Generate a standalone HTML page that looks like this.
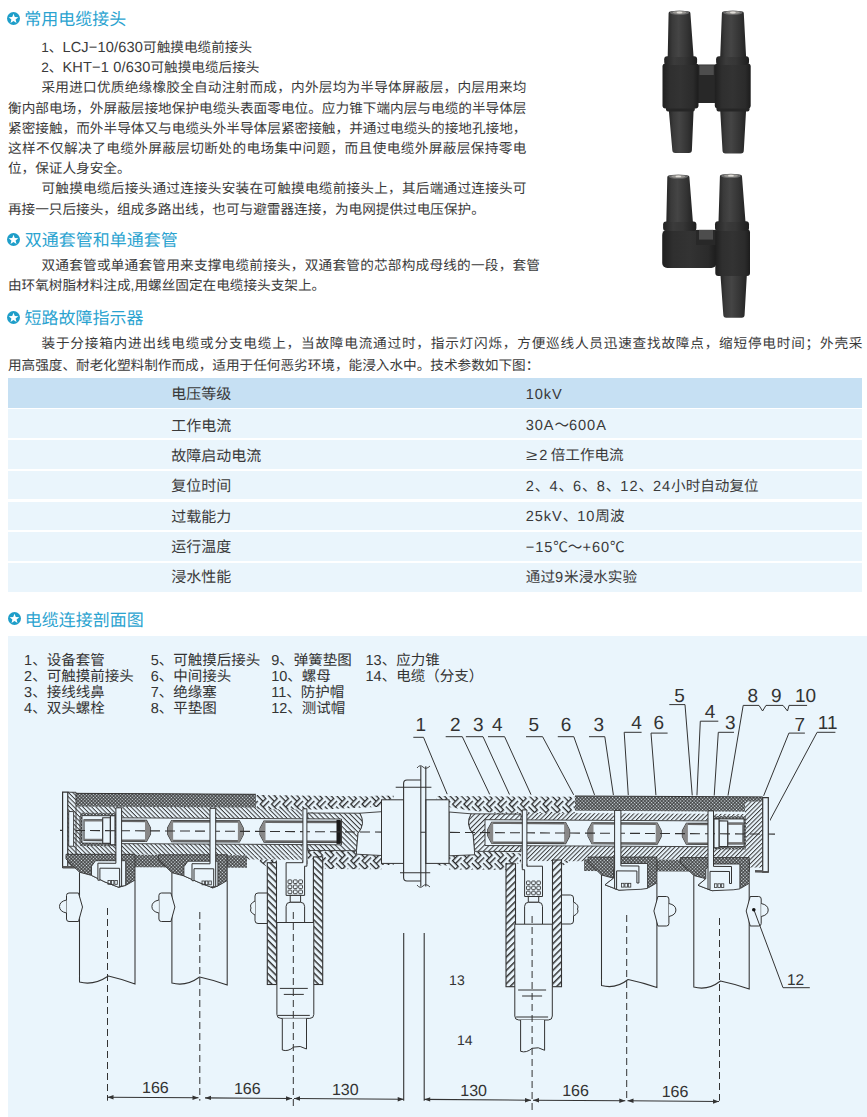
<!DOCTYPE html>
<html lang="zh-CN"><head><meta charset="utf-8">
<style>
html,body{margin:0;padding:0;background:#fff;}
body{width:867px;height:1117px;overflow:hidden;position:relative;text-rendering:geometricPrecision;text-spacing-trim:space-all;font-family:"Liberation Sans",sans-serif;color:#3a3a3a;}
.l{position:absolute;white-space:nowrap;font-size:13.64px;line-height:20px;height:20px;}
.j{text-align:justify;text-align-last:justify;}
.la{font-size:14.6px;letter-spacing:0.15px;}
.h{position:absolute;white-space:nowrap;font-size:17px;line-height:20px;color:#2aa3d0;}
.h .s{position:absolute;left:-19px;top:3.5px;width:13px;height:13px;}
.tbl{position:absolute;left:7.8px;top:378px;width:854.6px;}
.tr{position:absolute;left:0;width:854.6px;background:#eaf5fc;}
.tr.hd{background:#c6e0f3;}
.tbl span{position:absolute;font-size:14.6px;line-height:18px;white-space:nowrap;color:#3a3a3a;}
.tbl span.a{font-size:15px;}
.tbl .ge{letter-spacing:0;display:inline-block;transform:scaleX(1.4);transform-origin:0 50%;margin-right:5.4px;}
.tbl .g2{margin-right:2.5px;}
.tbl i{font-style:normal;letter-spacing:0.9px;}
.tbl .a{left:163.5px;}
.tbl .b{left:518px;}
.panel{position:absolute;left:8px;top:635.5px;width:859px;height:481.5px;background:#eaf5fc;}
.lg{position:absolute;white-space:nowrap;font-size:14.5px;line-height:16px;color:#333;}
</style></head><body>

<svg width="0" height="0" style="position:absolute">
<defs>
<symbol id="star" viewBox="0 0 13 13"><circle cx="6.5" cy="6.5" r="6.5" fill="#1e9ec9"/><path d="M6.50 1.70 L7.79 5.02 L11.35 5.22 L8.59 7.48 L9.50 10.93 L6.50 9.00 L3.50 10.93 L4.41 7.48 L1.65 5.22 L5.21 5.02 Z" fill="#fff"/></symbol>
</defs></svg>

<div class="h j" style="left:24.2px;top:9.8px;width:102.00px;"><svg class="s" style="left:-16.9px;top:2px"><use href="#star"/></svg>常用电缆接头</div>
<div class="l j" style="left:41.2px;top:37.8px;width:210.83px;">1、<span class="la">LCJ−10/630</span>可触摸电缆前接头</div>
<div class="l j" style="left:41.2px;top:58.0px;width:218.27px;">2、<span class="la">KHT−1 0/630</span>可触摸电缆后接头</div>
<div class="l j" style="left:41.5px;top:77.8px;width:485px;">采用进口优质绝缘橡胶全自动注射而成，内外层均为半导体屏蔽层，内层用来均</div>
<div class="l j" style="left:8px;top:98.6px;width:518.5px;">衡内部电场，外屏蔽层接地保护电缆头表面零电位。应力锥下端内层与电缆的半导体层</div>
<div class="l j" style="left:8px;top:118.8px;width:518.5px;">紧密接触，而外半导体又与电缆头外半导体层紧密接触，并通过电缆头的接地孔接地，</div>
<div class="l j" style="left:8px;top:138.8px;width:518.5px;">这样不仅解决了电缆外屏蔽层切断处的电场集中问题，而且使电缆外屏蔽层保持零电</div>
<div class="l j" style="left:8px;top:159.3px;width:122.62px;">位，保证人身安全。</div>
<div class="l j" style="left:41.5px;top:179.4px;width:485px;">可触摸电缆后接头通过连接头安装在可触摸电缆前接头上，其后端通过连接头可</div>
<div class="l j" style="left:8px;top:199.8px;width:476.88px;">再接一只后接头，组成多路出线，也可与避雷器连接，为电网提供过电压保护。</div>

<div class="h j" style="left:24.8px;top:231.15px;width:153.00px;"><svg class="s" style="left:-17.6px;top:1.95px"><use href="#star"/></svg>双通套管和单通套管</div>
<div class="l j" style="left:41.5px;top:256.4px;width:498.5px;">双通套管或单通套管用来支撑电缆前接头，双通套管的芯部构成母线的一段，套管</div>
<div class="l j" style="left:8px;top:276.3px;width:317.17px;">由环氧树脂材料注成,用螺丝固定在电缆接头支架上。</div>

<div class="h j" style="left:24.4px;top:309.1px;width:119.00px;"><svg class="s" style="left:-17.2px;top:2.4px"><use href="#star"/></svg>短路故障指示器</div>
<div class="l j" style="left:41.5px;top:333.7px;width:821px;">装于分接箱内进出线电缆或分支电缆上，当故障电流通过时，指示灯闪烁，方便巡线人员迅速查找故障点，缩短停电时间；外壳采</div>
<div class="l j" style="left:8px;top:355.5px;width:531.38px;">用高强度、耐老化塑料制作而成，适用于任何恶劣环境，能浸入水中。技术参数如下图：</div>

<div class="tbl">
<div class="tr hd" style="top:0.00px;height:29.6px"></div>
<div class="tr" style="top:31.40px;height:28.7px"></div>
<div class="tr" style="top:62.10px;height:28.7px"></div>
<div class="tr" style="top:92.80px;height:28.7px"></div>
<div class="tr" style="top:123.50px;height:28.7px"></div>
<div class="tr" style="top:154.20px;height:28.7px"></div>
<div class="tr" style="top:184.90px;height:28.7px"></div>
<span class="a j" style="top:8.00px;width:60.02px;">电压等级</span><span class="b" style="top:7.50px"><i>10kV</i></span>
<span class="a j" style="top:39.50px;width:60.02px;">工作电流</span><span class="b j" style="top:39.00px;width:80.97px;"><i>30A</i>～<i>600A</i></span>
<span class="a j" style="top:69.50px;width:90.02px;">故障启动电流</span><span class="b j" style="top:69.00px;width:97.92px;"><i class="ge">≥</i><i class="g2">2</i>倍工作电流</span>
<span class="a j" style="top:100.30px;width:60.02px;">复位时间</span><span class="b j" style="top:99.80px;width:232.84px;"><i>2</i>、<i>4</i>、<i>6</i>、<i>8</i>、<i>12</i>、<i>24</i>小时自动复位</span>
<span class="a j" style="top:130.50px;width:60.02px;">过载能力</span><span class="b j" style="top:130.00px;width:98.73px;"><i>25kV</i>、<i>10</i>周波</span>
<span class="a j" style="top:161.10px;width:60.02px;">运行温度</span><span class="b j" style="top:160.60px;width:98.75px;"><i>−15</i>℃～<i>+60</i>℃</span>
<span class="a j" style="top:191.30px;width:60.02px;">浸水性能</span><span class="b j" style="top:190.80px;width:111.22px;">通过<i>9</i>米浸水实验</span>
</div>

<div class="h j" style="left:24.8px;top:610.5px;width:119.00px;"><svg class="s" style="left:-17px;top:1.9px"><use href="#star"/></svg>电缆连接剖面图</div>

<div class="panel"></div>
<div class="lg j" style="left:24.1px;top:652.8px;width:80.58px;">1、设备套管</div>
<div class="lg j" style="left:24.1px;top:668.9px;width:109.58px;">2、可触摸前接头</div>
<div class="lg j" style="left:24.1px;top:685.1px;width:80.58px;">3、接线线鼻</div>
<div class="lg j" style="left:24.1px;top:701.2px;width:80.58px;">4、双头螺栓</div>
<div class="lg j" style="left:150.8px;top:652.8px;width:109.58px;">5、可触摸后接头</div>
<div class="lg j" style="left:150.8px;top:668.9px;width:80.58px;">6、中间接头</div>
<div class="lg j" style="left:150.8px;top:685.1px;width:66.08px;">7、绝缘塞</div>
<div class="lg j" style="left:150.8px;top:701.2px;width:66.08px;">8、平垫图</div>
<div class="lg j" style="left:271.2px;top:652.8px;width:80.58px;">9、弹簧垫图</div>
<div class="lg j" style="left:271.2px;top:668.9px;width:59.64px;">10、螺母</div>
<div class="lg j" style="left:271.2px;top:685.1px;width:73.06px;">11、防护帽</div>
<div class="lg j" style="left:271.2px;top:701.2px;width:74.14px;">12、测试帽</div>
<div class="lg j" style="left:365.5px;top:652.8px;width:74.14px;">13、应力锥</div>
<div class="lg j" style="left:365.5px;top:668.9px;width:117.64px;">14、电缆（分支）</div>

<!--DG--><svg id="dg" width="867" height="1117" style="position:absolute;left:0;top:0" font-family="Liberation Sans, sans-serif"><defs>
<pattern id="xh" patternUnits="userSpaceOnUse" width="2.4" height="2.4" patternTransform="rotate(45)">
 <rect width="2.4" height="2.4" fill="#333"/><rect x="0.52" y="0.52" width="1.36" height="1.36" fill="#eaf5fc"/>
</pattern>
<pattern id="dh" patternUnits="userSpaceOnUse" width="3.1" height="3.1" patternTransform="rotate(45)">
 <rect width="3.1" height="3.1" fill="#eaf5fc"/><rect x="0" y="0" width="3.1" height="1.0" fill="#3a3a3a"/>
</pattern>
<pattern id="dr" patternUnits="userSpaceOnUse" width="3.1" height="3.1" patternTransform="rotate(-45)">
 <rect width="3.1" height="3.1" fill="#eaf5fc"/><rect x="0" y="0" width="3.1" height="1.0" fill="#3a3a3a"/>
</pattern>
<pattern id="ds" patternUnits="userSpaceOnUse" width="3.6" height="3.6" patternTransform="rotate(-45)">
 <rect width="3.6" height="3.6" fill="#eaf5fc"/><rect x="0" y="0" width="3.6" height="1.05" fill="#3a3a3a"/>
</pattern>
<pattern id="hb" patternUnits="userSpaceOnUse" width="16" height="16" patternTransform="rotate(45)">
 <rect width="16" height="16" fill="#eaf5fc"/>
 <path d="M0 0.7H8.0M0 4.7H8.0M8.7 0V8.0M12.7 0V8.0M0.7 8.0V16M4.7 8.0V16M8.0 8.7H16M8.0 12.7H16" stroke="#222" stroke-width="1.3" fill="none"/>
</pattern>
<pattern id="hwl" patternUnits="userSpaceOnUse" width="4.7" height="4.7" patternTransform="rotate(45)">
 <rect width="4.7" height="4.7" fill="#eaf5fc"/><rect width="4.7" height="1.5" fill="#333"/>
</pattern>
<pattern id="hwr" patternUnits="userSpaceOnUse" width="4.7" height="4.7" patternTransform="rotate(-45)">
 <rect width="4.7" height="4.7" fill="#eaf5fc"/><rect width="4.7" height="1.5" fill="#333"/>
</pattern>
<pattern id="dsl" patternUnits="userSpaceOnUse" width="3.6" height="3.6" patternTransform="rotate(45)">
 <rect width="3.6" height="3.6" fill="#eaf5fc"/><rect x="0" y="0" width="3.6" height="1.05" fill="#3a3a3a"/>
</pattern>
</defs>
<text x="420.8" y="731.0" font-size="19" text-anchor="middle" fill="#333">1</text>
<text x="455.4" y="731.0" font-size="19" text-anchor="middle" fill="#333">2</text>
<text x="478.3" y="731.0" font-size="19" text-anchor="middle" fill="#333">3</text>
<text x="497.4" y="731.0" font-size="19" text-anchor="middle" fill="#333">4</text>
<text x="533.7" y="731.0" font-size="19" text-anchor="middle" fill="#333">5</text>
<text x="566.1" y="731.0" font-size="19" text-anchor="middle" fill="#333">6</text>
<text x="598.8" y="731.0" font-size="19" text-anchor="middle" fill="#333">3</text>
<text x="636.6" y="729.3" font-size="19" text-anchor="middle" fill="#333">4</text>
<text x="658.8" y="729.3" font-size="19" text-anchor="middle" fill="#333">6</text>
<text x="679.5" y="701.6" font-size="19" text-anchor="middle" fill="#333">5</text>
<text x="710" y="717.7" font-size="19" text-anchor="middle" fill="#333">4</text>
<text x="730.2" y="729.3" font-size="19" text-anchor="middle" fill="#333">3</text>
<text x="799.9" y="730.7" font-size="19" text-anchor="middle" fill="#333">7</text>
<text x="827.6" y="729.3" font-size="19" text-anchor="middle" fill="#333">11</text>
<text x="752.9" y="702.2" font-size="19" text-anchor="middle" fill="#333">8</text>
<text x="776.4" y="702.2" font-size="19" text-anchor="middle" fill="#333">9</text>
<text x="805.5" y="702.2" font-size="19" text-anchor="middle" fill="#333">10</text>
<path d="M413.3 737.3H423.5L457.8 819.6" stroke="#333" stroke-width="1" fill="none"/>
<path d="M445.7 736.7H462.3L494.2 803.9" stroke="#333" stroke-width="1" fill="none"/>
<path d="M465.9 736.7H483L523.2 824.5" stroke="#333" stroke-width="1" fill="none"/>
<path d="M488 736.7H504.6L546.3 828.1" stroke="#333" stroke-width="1" fill="none"/>
<path d="M526 736.7H542.6L575.3 797.9" stroke="#333" stroke-width="1" fill="none"/>
<path d="M557.8 736.7H573.8L599.5 808.8" stroke="#333" stroke-width="1" fill="none"/>
<path d="M589 736.7H604.8L618.4 828.9" stroke="#333" stroke-width="1" fill="none"/>
<path d="M641.6 732.3H624.2L630.5 829.3" stroke="#333" stroke-width="1" fill="none"/>
<path d="M667.6 733.1H651L657.5 815" stroke="#333" stroke-width="1" fill="none"/>
<path d="M669.3 704.6H685L692.5 798.7" stroke="#333" stroke-width="1" fill="none"/>
<path d="M718.3 721.2H700.3L695.4 829.5" stroke="#333" stroke-width="1" fill="none"/>
<path d="M734 732.3H718.3L712 829.5" stroke="#333" stroke-width="1" fill="none"/>
<path d="M807.1 705.4H789L787.5 711L783 705.4H766L762.6 711L759 705.4H743.2L723 825.2" stroke="#333" stroke-width="1" fill="none"/>
<path d="M804.9 733.1H788.9L761.8 800.3" stroke="#333" stroke-width="1" fill="none"/>
<path d="M835.4 732.3H817.1L768.3 823.4" stroke="#333" stroke-width="1" fill="none"/>
<circle cx="618.4" cy="828.9" r="1.8" fill="#111"/>
<circle cx="630.5" cy="829.3" r="1.8" fill="#111"/>
<circle cx="657.5" cy="815" r="1.8" fill="#111"/>
<circle cx="695.4" cy="829.5" r="1.8" fill="#111"/>
<circle cx="712" cy="829.5" r="1.8" fill="#111"/>
<circle cx="723" cy="825.2" r="1.8" fill="#111"/>
<polygon points="62.6,792.2 770.0,795.9 770.0,871.7 62.6,868.0" fill="#eaf5fc"/>
<polygon points="68.8,793.3 256.0,794.3 256.0,807.6 68.8,806.6" fill="url(#xh)"/>
<polygon points="66.0,798.0 302.0,799.2 302.0,818.7 66.0,817.5" fill="url(#dh)"/>
<polygon points="66.0,843.3 302.0,844.5 302.0,855.5 66.0,854.3" fill="url(#dh)"/>
<polygon points="66.0,798.0 80.0,798.1 80.0,866.1 66.0,866.0" fill="url(#dh)"/>
<polygon points="68.8,793.3 256.0,794.3 256.0,807.6 68.8,806.6" fill="url(#xh)"/>
<polygon points="80.0,854.4 247.0,855.3 247.0,867.8 80.0,866.9" fill="url(#xh)"/>
<polygon points="256.0,795.1 372.0,796.4 372.0,795.7 393.8,795.8 393.8,802.0 381.5,802.0 381.5,806.7 320.0,809.6 256.0,809.3" fill="url(#hb)"/>
<polygon points="247.0,855.3 302.0,855.5 302.0,859.7 247.0,859.5" fill="url(#dh)"/>
<polygon points="259.6,859.5 277.0,859.6 277.0,867.1 267.3,867.1 259.6,862.0" fill="url(#hb)"/>
<polygon points="307.7,850.3 393.8,850.7 393.8,865.1 381.5,865.1 381.5,869.2 322.7,868.9 322.7,873.4 313.4,873.3 313.4,859.3 307.7,859.3" fill="url(#hb)"/>
<polygon points="307.7,812.3 314.0,812.3 314.0,818.8 307.7,818.8" fill="url(#dh)"/>
<path d="M307.7,813.0 L360,813.2 Q366,823.6 358,833.5 L356.5,850.7 L307.7,850.5 Z" fill="url(#dsl)" stroke="#333" stroke-width="0.9"/>
<path d="M360,813.2 L381.5,811.7 L381.5,855.5 L356.5,854.2 L356.5,850.7 L358,833.5 Q366,823.6 360,813.2 Z" fill="#eaf5fc" stroke="#333" stroke-width="0.9"/>
<polygon points="494.6,812.7 748.0,814.1 748.0,821.1 494.6,819.7" fill="url(#dr)"/>
<polygon points="575.0,796.0 762.7,796.9 762.7,811.7 575.0,810.8" fill="url(#xh)"/>
<polygon points="527.0,845.7 748.0,846.9 748.0,860.1 527.0,858.9" fill="url(#dr)"/>
<polygon points="745.0,801.6 762.7,801.6 762.7,867.6 745.0,867.6" fill="url(#dr)"/>
<polygon points="584.0,859.2 750.0,860.1 750.0,871.9 584.0,871.0" fill="url(#xh)"/>
<polygon points="436.4,796.0 575.0,796.8 575.0,813.2 494.6,812.7 470.0,810.4 449.0,807.0 449.0,802.3 436.4,802.2" fill="url(#hb)"/>
<polygon points="436.4,851.4 494.6,851.7 521.0,853.4 521.0,863.4 515.5,863.4 515.5,874.4 506.0,874.3 506.0,869.8 449.0,869.5 449.0,865.4 436.4,865.3" fill="url(#hb)"/>
<polygon points="527.0,856.7 584.0,857.0 584.0,861.2 527.0,860.9" fill="url(#dr)"/>
<polygon points="552.5,861.1 570.0,861.1 561.5,866.6 552.5,866.6" fill="url(#hb)"/>
<path d="M521,814.1 L471,813.8 Q465,824.1 473,834.1 L474.5,851.3 L521,851.6 Z" fill="url(#ds)" stroke="#333" stroke-width="0.9"/>
<path d="M471,813.8 L449,812.0 L449,855.8 L474.5,854.8 L474.5,851.3 L473,834.1 Q465,824.1 471,813.8 Z" fill="#eaf5fc" stroke="#333" stroke-width="0.9"/>
<polygon points="80.0,817.6 341.5,819.0 341.5,844.8 80.0,843.4" fill="#eaf5fc" stroke="#333" stroke-width="0.9"/>
<polygon points="485.0,819.7 745.0,821.1 745.0,846.9 485.0,845.5" fill="#eaf5fc" stroke="#333" stroke-width="0.9"/>
<polygon points="119.0,841.3 119.0,820.3 146.5,820.4 150.5,828.0 150.5,834.0 146.5,841.4" fill="#eaf5fc" stroke="#333" stroke-width="1.1"/>
<polygon points="119.0,820.3 146.5,820.4 146.5,822.2 119.0,822.1" fill="#666"/>
<polygon points="119.0,839.5 146.5,839.6 146.5,841.4 119.0,841.3" fill="#666"/>
<polygon points="146.5,820.4 150.5,828.0 150.5,834.0 146.5,841.4 145.0,841.4 145.0,820.4" fill="#888"/>
<polygon points="171.6,841.6 167.6,834.0 167.6,828.0 171.6,820.6 239.4,820.9 243.4,828.4 243.4,834.4 239.4,841.9" fill="#eaf5fc" stroke="#333" stroke-width="1.1"/>
<polygon points="171.6,820.6 239.4,820.9 239.4,822.7 171.6,822.4" fill="#666"/>
<polygon points="171.6,839.8 239.4,840.1 239.4,841.9 171.6,841.6" fill="#666"/>
<polygon points="171.6,820.6 167.6,828.0 167.6,834.0 171.6,841.6 173.1,841.6 173.1,820.6" fill="#888"/>
<polygon points="239.4,820.9 243.4,828.4 243.4,834.4 239.4,841.9 237.9,841.9 237.9,820.9" fill="#888"/>
<polygon points="264.0,842.1 260.0,834.5 260.0,828.5 264.0,821.1 340.7,821.4 340.7,842.4" fill="#eaf5fc" stroke="#333" stroke-width="1.1"/>
<polygon points="264.0,821.1 340.7,821.4 340.7,823.2 264.0,822.9" fill="#666"/>
<polygon points="264.0,840.3 340.7,840.6 340.7,842.4 264.0,842.1" fill="#666"/>
<polygon points="264.0,821.1 260.0,828.5 260.0,834.5 264.0,842.1 265.5,842.1 265.5,821.1" fill="#888"/>
<polygon points="491.7,843.2 487.7,835.7 487.7,829.7 491.7,822.2 565.6,822.6 569.6,830.1 569.6,836.1 565.6,843.6" fill="#eaf5fc" stroke="#333" stroke-width="1.1"/>
<polygon points="491.7,822.2 565.6,822.6 565.6,824.4 491.7,824.0" fill="#666"/>
<polygon points="491.7,841.4 565.6,841.8 565.6,843.6 491.7,843.2" fill="#666"/>
<polygon points="491.7,822.2 487.7,829.7 487.7,835.7 491.7,843.2 493.2,843.2 493.2,822.2" fill="#888"/>
<polygon points="565.6,822.6 569.6,830.1 569.6,836.1 565.6,843.6 564.1,843.6 564.1,822.6" fill="#888"/>
<polygon points="592.0,843.8 588.0,836.2 588.0,830.2 592.0,822.8 657.2,823.1 661.2,830.6 661.2,836.6 657.2,844.1" fill="#eaf5fc" stroke="#333" stroke-width="1.1"/>
<polygon points="592.0,822.8 657.2,823.1 657.2,824.9 592.0,824.6" fill="#666"/>
<polygon points="592.0,842.0 657.2,842.3 657.2,844.1 592.0,843.8" fill="#666"/>
<polygon points="592.0,822.8 588.0,830.2 588.0,836.2 592.0,843.8 593.5,843.8 593.5,822.8" fill="#888"/>
<polygon points="657.2,823.1 661.2,830.6 661.2,836.6 657.2,844.1 655.7,844.1 655.7,823.1" fill="#888"/>
<polygon points="686.4,844.2 682.4,836.7 682.4,830.7 686.4,823.2 708.3,823.4 708.3,844.4" fill="#eaf5fc" stroke="#333" stroke-width="1.1"/>
<polygon points="686.4,823.2 708.3,823.4 708.3,825.2 686.4,825.0" fill="#666"/>
<polygon points="686.4,842.4 708.3,842.6 708.3,844.4 686.4,844.2" fill="#666"/>
<polygon points="686.4,823.2 682.4,830.7 682.4,836.7 686.4,844.2 687.9,844.3 687.9,823.3" fill="#888"/>
<polygon points="80.0,812.8 117.0,813.0 117.0,846.2 80.0,846.0" fill="url(#xh)"/>
<polygon points="82.0,815.6 115.0,815.8 115.0,843.3 82.0,843.1" fill="#eaf5fc" stroke="#333" stroke-width="0.9"/>
<polygon points="84.0,819.7 102.7,819.8 102.7,840.6 84.0,840.5" fill="#eaf5fc" stroke="#333" stroke-width="1.1"/>
<polygon points="84.0,819.7 102.7,819.8 102.7,821.6 84.0,821.5" fill="#777"/>
<polygon points="84.0,838.7 102.7,838.8 102.7,840.6 84.0,840.5" fill="#777"/>
<polygon points="102.7,817.7 110.4,817.8 110.4,843.4 102.7,843.3" fill="#eaf5fc" stroke="#333" stroke-width="1.1"/>
<polygon points="110.4,815.8 115.0,815.8 115.0,844.8 110.4,844.8" fill="#eaf5fc" stroke="#333" stroke-width="1.1"/>
<polygon points="712.0,816.1 746.0,816.3 746.0,849.5 712.0,849.3" fill="url(#xh)"/>
<polygon points="714.0,818.9 744.0,819.0 744.0,846.5 714.0,846.4" fill="#eaf5fc" stroke="#333" stroke-width="0.9"/>
<polygon points="727.7,823.1 743.0,823.1 743.0,843.9 727.7,843.9" fill="#eaf5fc" stroke="#333" stroke-width="1.1"/>
<polygon points="727.7,823.1 743.0,823.1 743.0,824.9 727.7,824.9" fill="#777"/>
<polygon points="727.7,842.1 743.0,842.1 743.0,843.9 727.7,843.9" fill="#777"/>
<polygon points="719.0,820.9 727.7,821.0 727.7,846.6 719.0,846.5" fill="#eaf5fc" stroke="#333" stroke-width="1.1"/>
<polygon points="714.0,818.9 719.0,818.9 719.0,847.9 714.0,847.9" fill="#eaf5fc" stroke="#333" stroke-width="1.1"/>
<polygon points="336.5,819.9 340.7,819.9 340.7,843.9 336.5,843.9" fill="#1a1a1a"/>
<line x1="60" y1="830.4" x2="775" y2="834.1" stroke="#333" stroke-width="1.1" stroke-dasharray="10,5"/>
<polyline points="68.8,793.3 256.0,794.3" fill="none" stroke="#333" stroke-width="1"/>
<polyline points="575.0,796.0 762.7,796.9" fill="none" stroke="#333" stroke-width="1"/>
<polygon points="62.6,792.2 67.9,792.2 67.9,867.5 62.6,867.5" fill="#eaf5fc" stroke="#333" stroke-width="1.2"/>
<polygon points="67.9,792.2 76.0,792.3 76.0,867.6 67.9,867.5" fill="url(#dh)" stroke="#333" stroke-width="0.9"/>
<polygon points="68.7,811.5 73.6,811.6 73.6,846.3 68.7,846.2" fill="#eaf5fc" stroke="#333" stroke-width="0.9"/>
<polygon points="62.6,866.0 76.0,866.1 76.0,868.6 62.6,868.5" fill="#555"/>
<polygon points="762.7,797.6 768.3,797.7 768.3,872.2 762.7,872.1" fill="#eaf5fc" stroke="#333" stroke-width="1.2"/>
<polygon points="755.0,870.1 768.3,870.2 768.3,872.7 755.0,872.6" fill="#555"/>
<rect x="381.5" y="799.8" width="22.1" height="63.6" fill="#eaf5fc" stroke="#333" stroke-width="1"/>
<rect x="425.8" y="799.8" width="23.2" height="63.6" fill="#eaf5fc" stroke="#333" stroke-width="1"/>
<path d="M420.8 780H407Q403.6 780 403.6 783.5V877.5Q403.6 881 407 881H420.8" fill="#eaf5fc" stroke="#333" stroke-width="1.1"/>
<path d="M420.8 766.3V886.6M425.8 766.3V886.6" stroke="#333" stroke-width="1.1" fill="none"/>
<path d="M395.7 787.3H431.4M400 872.8H430.2" stroke="#333" stroke-width="1.1"/>
<path d="M417 768Q420 764 423 767T430 766M417 885Q420 889 423 886T430 887" stroke="#333" stroke-width="0.9" fill="none"/>
<path d="M79.5,872.2 L79.5,982 Q93.375,986 108.4,976 Q121.7,979 135,984 L135,880" fill="#eaf5fc" stroke="#333" stroke-width="1.05"/>
<path d="M78.5,893 H69.0 Q66.5,893 66.5,895.5 V919 Q66.5,921.5 69.0,921.5 H78.5 L82.5,907 Z" fill="#eaf5fc" stroke="#333" stroke-width="1"/>
<path d="M66.5,900 Q59.5,901.5 59.5,906.5 Q59.5,911.5 66.5,913" fill="#eaf5fc" stroke="#333" stroke-width="1"/>
<path d="M171.9,872.7 L171.9,983 Q185.725,987 199.6,977 Q213.39999999999998,980 227.2,985 L227.2,880.5" fill="#eaf5fc" stroke="#333" stroke-width="1.05"/>
<path d="M170.9,893 H161.4 Q158.9,893 158.9,895.5 V919 Q158.9,921.5 161.4,921.5 H170.9 L174.9,907 Z" fill="#eaf5fc" stroke="#333" stroke-width="1"/>
<path d="M158.9,900 Q151.9,901.5 151.9,906.5 Q151.9,911.5 158.9,913" fill="#eaf5fc" stroke="#333" stroke-width="1"/>
<path d="M601.5,875 L601.5,985.5 Q615.35,989.5 628.1,979.5 Q642.5,982.5 656.9,987.5 L656.9,882.8" fill="#eaf5fc" stroke="#333" stroke-width="1.05"/>
<path d="M657.9,896.5 H666.4 Q668.9,896.5 668.9,899 V923.5 Q668.9,926 666.4,926 H657.9 L653.9,911 Z" fill="#eaf5fc" stroke="#333" stroke-width="1"/>
<path d="M668.9,903.5 Q675.9,905 675.9,910 Q675.9,915 668.9,916.5" fill="#eaf5fc" stroke="#333" stroke-width="1"/>
<path d="M693.8,875.5 L693.8,987 Q707.65,991 720.5,981 Q734.85,984 749.2,989 L749.2,883.3" fill="#eaf5fc" stroke="#333" stroke-width="1.05"/>
<path d="M750.2,896.5 H758.7 Q761.2,896.5 761.2,899 V923.5 Q761.2,926 758.7,926 H750.2 L746.2,911 Z" fill="#eaf5fc" stroke="#333" stroke-width="1"/>
<path d="M761.2,903.5 Q768.2,905 768.2,910 Q768.2,915 761.2,916.5" fill="#eaf5fc" stroke="#333" stroke-width="1"/>
<polygon points="66.0,854.3 135.0,854.3 135.0,880.0 127.0,884.7 119.0,887.4 105.0,882.0 91.5,875.4 79.5,872.2 66.0,859.0" fill="url(#xh)" stroke="#333" stroke-width="0.9"/>
<polygon points="91.5,875.4 91.5,866.2 95.5,860.7 125.7,860.7 125.7,885.6 119.0,886.5 119.0,887.4 105.0,882.0" fill="#eaf5fc" stroke="#333" stroke-width="0.9"/>
<rect x="108.0" y="880.5" width="2.5" height="3.8" fill="none" stroke="#333" stroke-width="0.8"/>
<rect x="111.4" y="880.5" width="2.5" height="3.8" fill="none" stroke="#333" stroke-width="0.8"/>
<rect x="114.8" y="880.5" width="2.5" height="3.8" fill="none" stroke="#333" stroke-width="0.8"/>
<polygon points="158.4,854.8 227.2,854.8 227.2,880.5 219.2,885.2 213.0,887.9 199.0,882.5 183.9,875.9 171.9,872.7 158.4,859.5" fill="url(#xh)" stroke="#333" stroke-width="0.9"/>
<polygon points="183.9,875.9 183.9,866.7 187.9,861.2 217.9,861.2 217.9,886.1 211.2,887.0 213.0,887.9 199.0,882.5" fill="#eaf5fc" stroke="#333" stroke-width="0.9"/>
<rect x="202.0" y="881.0" width="2.5" height="3.8" fill="none" stroke="#333" stroke-width="0.8"/>
<rect x="205.4" y="881.0" width="2.5" height="3.8" fill="none" stroke="#333" stroke-width="0.8"/>
<rect x="208.8" y="881.0" width="2.5" height="3.8" fill="none" stroke="#333" stroke-width="0.8"/>
<polygon points="588.0,857.1 656.9,857.1 656.9,882.8 648.9,887.5 619.0,890.2 605.0,884.8 613.5,878.2 601.5,875.0 588.0,861.8" fill="url(#xh)" stroke="#333" stroke-width="0.9"/>
<polygon points="613.5,878.2 613.5,869.0 617.5,863.5 647.6,863.5 647.6,888.4 640.9,889.3 619.0,890.2 605.0,884.8" fill="#eaf5fc" stroke="#333" stroke-width="0.9"/>
<rect x="621.5" y="883.3" width="2.5" height="3.8" fill="none" stroke="#333" stroke-width="0.8"/>
<rect x="624.9" y="883.3" width="2.5" height="3.8" fill="none" stroke="#333" stroke-width="0.8"/>
<rect x="628.3" y="883.3" width="2.5" height="3.8" fill="none" stroke="#333" stroke-width="0.8"/>
<polygon points="680.3,857.6 749.2,857.6 749.2,883.3 741.2,888.0 712.0,890.7 698.0,885.3 705.8,878.7 693.8,875.5 680.3,862.3" fill="url(#xh)" stroke="#333" stroke-width="0.9"/>
<polygon points="705.8,878.7 705.8,869.5 709.8,864.0 739.9,864.0 739.9,888.9 733.2,889.8 712.0,890.7 698.0,885.3" fill="#eaf5fc" stroke="#333" stroke-width="0.9"/>
<rect x="714.5" y="883.8" width="2.5" height="3.8" fill="none" stroke="#333" stroke-width="0.8"/>
<rect x="717.9" y="883.8" width="2.5" height="3.8" fill="none" stroke="#333" stroke-width="0.8"/>
<rect x="721.3" y="883.8" width="2.5" height="3.8" fill="none" stroke="#333" stroke-width="0.8"/>
<polygon points="115.9,807.8 121.6,807.8 121.6,886.3 119.6,886.3 119.6,868.3 99.9,868.2 99.9,880.2 97.9,880.2 97.9,863.2 115.9,863.3" fill="#eaf5fc" stroke="#333" stroke-width="1.0"/>
<polygon points="210.0,808.3 215.7,808.3 215.7,886.8 213.7,886.8 213.7,868.8 194.0,868.7 194.0,880.7 192.0,880.7 192.0,863.7 210.0,863.8" fill="#eaf5fc" stroke="#333" stroke-width="1.0"/>
<polygon points="614.6,810.4 620.9,810.4 620.9,865.9 638.9,866.0 638.9,883.0 636.9,883.0 636.9,871.0 616.6,870.9 616.6,888.9 614.6,888.9" fill="#eaf5fc" stroke="#333" stroke-width="1.0"/>
<polygon points="708.0,810.9 713.5,810.9 713.5,866.4 731.5,866.5 731.5,883.5 729.5,883.5 729.5,871.5 710.0,871.4 710.0,889.4 708.0,889.4" fill="#eaf5fc" stroke="#333" stroke-width="1.0"/>
<polygon points="302.9,808.8 306.9,808.8 306.9,864.2 302.9,864.2" fill="#eaf5fc" stroke="#333" stroke-width="1.0"/>
<polygon points="522.3,809.9 526.9,809.9 526.9,867.7 522.3,867.7" fill="#eaf5fc" stroke="#333" stroke-width="1.0"/>
<rect x="267.3" y="862.7" width="9.199999999999989" height="121.79999999999995" fill="url(#hwl)" stroke="#333" stroke-width="1.1"/>
<rect x="313.4" y="856.9" width="9.300000000000011" height="127.60000000000002" fill="url(#hwl)" stroke="#333" stroke-width="1.1"/>
<rect x="506" y="863.8" width="9.5" height="122.90000000000009" fill="url(#hwr)" stroke="#333" stroke-width="1.1"/>
<rect x="552.5" y="860" width="9.0" height="126.70000000000005" fill="url(#hwr)" stroke="#333" stroke-width="1.1"/>
<path d="M302.9,860.2 V862.7 H286.1 V895.4 H304.6 V866.2 H306.9 V860.2" fill="#eaf5fc" stroke="#333" stroke-width="1"/>
<rect x="288.0" y="879.9" width="3.8" height="3.6" rx="0.8" fill="none" stroke="#333" stroke-width="0.9"/>
<rect x="288.0" y="885.0" width="3.8" height="3.6" rx="0.8" fill="none" stroke="#333" stroke-width="0.9"/>
<rect x="288.0" y="890.1" width="3.8" height="3.6" rx="0.8" fill="none" stroke="#333" stroke-width="0.9"/>
<rect x="293.4" y="879.9" width="3.8" height="3.6" rx="0.8" fill="none" stroke="#333" stroke-width="0.9"/>
<rect x="293.4" y="885.0" width="3.8" height="3.6" rx="0.8" fill="none" stroke="#333" stroke-width="0.9"/>
<rect x="293.4" y="890.1" width="3.8" height="3.6" rx="0.8" fill="none" stroke="#333" stroke-width="0.9"/>
<rect x="298.7" y="879.9" width="3.8" height="3.6" rx="0.8" fill="none" stroke="#333" stroke-width="0.9"/>
<rect x="298.7" y="885.0" width="3.8" height="3.6" rx="0.8" fill="none" stroke="#333" stroke-width="0.9"/>
<rect x="298.7" y="890.1" width="3.8" height="3.6" rx="0.8" fill="none" stroke="#333" stroke-width="0.9"/>
<rect x="290.2" y="895.4" width="10.4" height="6.9" fill="#eaf5fc" stroke="#333" stroke-width="1"/>
<path d="M286.1,922.5 V906.3 Q286.1,902.3 290.1,902.3 H300.6 Q304.6,902.3 304.6,906.3 V922.5" fill="#eaf5fc" stroke="#333" stroke-width="1"/>
<path d="M276.9,922.5 H313.8 V1014.4 Q313.8,1018.4 309.8,1018.4 H280.9 Q276.9,1018.4 276.9,1014.4 Z" fill="#eaf5fc" stroke="#333" stroke-width="1"/>
<path d="M279.8,988.4 H307.8 M283.8,994.4 H303.8 M277.8,1015.4 H309.8" stroke="#333" stroke-width="1"/>
<path d="M282.3,1018.4 V1050 Q288.05,1052 293.8,1047 Q300.15,1045 306.5,1049 V1018.4" fill="#eaf5fc" stroke="#333" stroke-width="1"/>
<path d="M526.9,863.7 V866.2 H542.5 V896.5 H524.6 V869.7 H522.3 V863.7" fill="#eaf5fc" stroke="#333" stroke-width="1"/>
<rect x="526.5" y="881.0" width="3.6" height="3.6" rx="0.8" fill="none" stroke="#333" stroke-width="0.9"/>
<rect x="526.5" y="886.1" width="3.6" height="3.6" rx="0.8" fill="none" stroke="#333" stroke-width="0.9"/>
<rect x="526.5" y="891.2" width="3.6" height="3.6" rx="0.8" fill="none" stroke="#333" stroke-width="0.9"/>
<rect x="531.7" y="881.0" width="3.6" height="3.6" rx="0.8" fill="none" stroke="#333" stroke-width="0.9"/>
<rect x="531.7" y="886.1" width="3.6" height="3.6" rx="0.8" fill="none" stroke="#333" stroke-width="0.9"/>
<rect x="531.7" y="891.2" width="3.6" height="3.6" rx="0.8" fill="none" stroke="#333" stroke-width="0.9"/>
<rect x="536.8" y="881.0" width="3.6" height="3.6" rx="0.8" fill="none" stroke="#333" stroke-width="0.9"/>
<rect x="536.8" y="886.1" width="3.6" height="3.6" rx="0.8" fill="none" stroke="#333" stroke-width="0.9"/>
<rect x="536.8" y="891.2" width="3.6" height="3.6" rx="0.8" fill="none" stroke="#333" stroke-width="0.9"/>
<rect x="528.3" y="896.5" width="10.4" height="5.8" fill="#eaf5fc" stroke="#333" stroke-width="1"/>
<path d="M524.6,924.2 V906.3 Q524.6,902.3 528.6,902.3 H538.5 Q542.5,902.3 542.5,906.3 V924.2" fill="#eaf5fc" stroke="#333" stroke-width="1"/>
<path d="M514.8,924.2 H552.3 V1016 Q552.3,1020 548.3,1020 H518.8 Q514.8,1020 514.8,1016 Z" fill="#eaf5fc" stroke="#333" stroke-width="1"/>
<path d="M518.1,990 H546.1 M522.1,996 H542.1 M516.1,1017 H548.1" stroke="#333" stroke-width="1"/>
<path d="M520.6,1020 V1051.3 Q526.35,1053.3 532.1,1048.3 Q538.35,1046.3 544.6,1050.3 V1020" fill="#eaf5fc" stroke="#333" stroke-width="1"/>
<path d="M267.3,893 H258 Q255,893 255,896 V920.5 Q255,923.5 258,923.5 H267.3 Z" fill="#eaf5fc" stroke="#333" stroke-width="1"/>
<path d="M255,901 Q249,904 251,908 Q249,912 255,915" fill="#eaf5fc" stroke="#333" stroke-width="1"/>
<path d="M561.5,895 H570.5 Q573.5,895 573.5,898 V921 Q573.5,924 570.5,924 H561.5 Z" fill="#eaf5fc" stroke="#333" stroke-width="1"/>
<path d="M573.5,902 Q579.5,905 577.5,909 Q579.5,913 573.5,916" fill="#eaf5fc" stroke="#333" stroke-width="1"/>
<path d="M403.7 933V1100.7M424.2 933V1100.7" stroke="#333" stroke-width="1.1"/>
<line x1="107.5" y1="908" x2="107.5" y2="1100.7" stroke="#333" stroke-width="1" stroke-dasharray="7,4"/>
<line x1="199.8" y1="912" x2="199.8" y2="1100.7" stroke="#333" stroke-width="1" stroke-dasharray="7,4"/>
<line x1="293.3" y1="912" x2="293.3" y2="1110" stroke="#333" stroke-width="1" stroke-dasharray="7,4"/>
<line x1="532.1" y1="916" x2="532.1" y2="1110" stroke="#333" stroke-width="1" stroke-dasharray="7,4"/>
<line x1="626.7" y1="915" x2="626.7" y2="1100.7" stroke="#333" stroke-width="1" stroke-dasharray="7,4"/>
<line x1="719.5" y1="918" x2="719.5" y2="1100.7" stroke="#333" stroke-width="1" stroke-dasharray="7,4"/>
<line x1="107.5" y1="1097.2" x2="198.5" y2="1097.8" stroke="#333" stroke-width="1.1"/>
<path d="M107.5,1097.2 l6,-2.2 v4.4 z M198.5,1097.8 l-6,-2.2 v4.4 z" fill="#333"/>
<line x1="205" y1="1097.9" x2="292" y2="1098.5" stroke="#333" stroke-width="1.1"/>
<path d="M205,1097.9 l6,-2.2 v4.4 z M292,1098.5 l-6,-2.2 v4.4 z" fill="#333"/>
<line x1="294" y1="1098.5" x2="403.7" y2="1099.3" stroke="#333" stroke-width="1.1"/>
<path d="M294,1098.5 l6,-2.2 v4.4 z M403.7,1099.3 l-6,-2.2 v4.4 z" fill="#333"/>
<line x1="424.2" y1="1099.4" x2="531" y2="1100.2" stroke="#333" stroke-width="1.1"/>
<path d="M424.2,1099.4 l6,-2.2 v4.4 z M531,1100.2 l-6,-2.2 v4.4 z" fill="#333"/>
<line x1="533" y1="1100.2" x2="625.3" y2="1100.8" stroke="#333" stroke-width="1.1"/>
<path d="M533,1100.2 l6,-2.2 v4.4 z M625.3,1100.8 l-6,-2.2 v4.4 z" fill="#333"/>
<line x1="627.5" y1="1100.8" x2="719" y2="1101.5" stroke="#333" stroke-width="1.1"/>
<path d="M627.5,1100.8 l6,-2.2 v4.4 z M719,1101.5 l-6,-2.2 v4.4 z" fill="#333"/>
<text x="155.4" y="1093.3" font-size="16" text-anchor="middle" fill="#333">166</text>
<text x="247.3" y="1094.0" font-size="16" text-anchor="middle" fill="#333">166</text>
<text x="345.3" y="1094.7" font-size="16" text-anchor="middle" fill="#333">130</text>
<text x="473.6" y="1095.6" font-size="16" text-anchor="middle" fill="#333">130</text>
<text x="575.5" y="1096.3" font-size="16" text-anchor="middle" fill="#333">166</text>
<text x="675" y="1097.0" font-size="16" text-anchor="middle" fill="#333">166</text>
<text x="456.9" y="984.6" font-size="14" text-anchor="middle" fill="#333">13</text>
<text x="464.8" y="1044.6" font-size="14" text-anchor="middle" fill="#333">14</text>
<text x="795.5" y="984.6" font-size="15.5" text-anchor="middle" fill="#333">12</text>
<path d="M754 910L783 987.7H809.8" stroke="#333" stroke-width="1" fill="none"/>
<circle cx="753.8" cy="909.8" r="1.8" fill="#111"/>
</svg><!--/DG-->
<!--PR--><svg id="pr" width="867" height="330" style="position:absolute;left:0;top:0"><defs>
<linearGradient id="gc" x1="0" x2="1" y1="0" y2="0">
 <stop offset="0" stop-color="#262626"/><stop offset="0.18" stop-color="#3a3a3a"/><stop offset="0.42" stop-color="#454545"/>
 <stop offset="0.75" stop-color="#343434"/><stop offset="1" stop-color="#232323"/></linearGradient>
<linearGradient id="gb" x1="0" x2="1" y1="0" y2="0">
 <stop offset="0" stop-color="#1f1f1f"/><stop offset="0.2" stop-color="#2f2f2f"/><stop offset="0.5" stop-color="#333"/>
 <stop offset="0.85" stop-color="#2b2b2b"/><stop offset="1" stop-color="#1c1c1c"/></linearGradient>
<linearGradient id="gk" x1="0" x2="1" y1="0" y2="0">
 <stop offset="0" stop-color="#222"/><stop offset="0.3" stop-color="#3b3b3b"/><stop offset="0.6" stop-color="#363636"/><stop offset="1" stop-color="#1e1e1e"/></linearGradient>
</defs>
<path d="M668.8,110 H693.6 L691.9,150 Q691.9,153 688.9,153 H675.3 Q672.3,153 672.3,150 Z" fill="url(#gc)"/>
<path d="M720.2,110 H746.1 L743.8,150.5 Q743.8,153.5 740.8,153.5 H725.5 Q722.5,153.5 722.5,150.5 Z" fill="url(#gc)"/>
<rect x="666" y="104" width="28.8" height="7.5" rx="2" fill="#262626"/>
<rect x="716.5" y="104" width="33.0" height="7.5" rx="2" fill="#262626"/>
<rect x="696" y="64.5" width="20.0" height="38.5" rx="0" fill="#282828"/>
<rect x="699.4" y="65.2" width="14.4" height="9.8" rx="0" fill="#4d4d4d"/>
<rect x="662.5" y="63.5" width="36.0" height="44.9" rx="3" fill="url(#gb)"/>
<rect x="714.8" y="63.5" width="35.9" height="44.9" rx="3" fill="url(#gb)"/>
<rect x="664.2" y="56.3" width="32.9" height="8.7" rx="3" fill="url(#gk)"/>
<rect x="716.1" y="56.3" width="32.9" height="8.7" rx="3" fill="url(#gk)"/>
<path d="M668.6,13.3 Q668.6,11.3 671.6,11.3 H687.4 Q690.4,11.3 690.4,13.3 L693.6,57 H667.7 Z" fill="url(#gc)"/>
<ellipse cx="679.5" cy="12.700000000000001" rx="9.699999999999978" ry="2.2" fill="#6a6a6a"/>
<ellipse cx="679.5" cy="12.5" rx="6.899999999999977" ry="1.4" fill="#9c9a96"/>
<ellipse cx="679.5" cy="12.5" rx="3" ry="0.9" fill="#e0ddd8"/>
<path d="M721.9,13.3 Q721.9,11.3 724.9,11.3 H740.8 Q743.8,11.3 743.8,13.3 L746.1,57 H720.2 Z" fill="url(#gc)"/>
<ellipse cx="732.8499999999999" cy="12.700000000000001" rx="9.74999999999999" ry="2.2" fill="#6a6a6a"/>
<ellipse cx="732.8499999999999" cy="12.5" rx="6.949999999999989" ry="1.4" fill="#9c9a96"/>
<ellipse cx="732.8499999999999" cy="12.5" rx="3" ry="0.9" fill="#e0ddd8"/>
<path d="M720.4,274 H746.9 L744.6,314.7 Q744.6,317.7 741.6,317.7 H726.3 Q723.3,317.7 723.3,314.7 Z" fill="url(#gc)"/>
<rect x="662.2" y="229.9" width="54.2" height="38.1" rx="5" fill="url(#gb)"/>
<rect x="696" y="229.9" width="20.0" height="15.1" rx="0" fill="#282828"/>
<rect x="699" y="229.9" width="14.0" height="9.7" rx="0" fill="#4d4d4d"/>
<rect x="715.3" y="229.5" width="34.7" height="46.5" rx="3" fill="url(#gb)"/>
<rect x="663.1" y="221.6" width="33.3" height="9.4" rx="3" fill="url(#gk)"/>
<rect x="715" y="221.2" width="34.0" height="9.8" rx="3" fill="url(#gk)"/>
<path d="M667.3,177.2 Q667.3,175.2 670.3,175.2 H686.4 Q689.4,175.2 689.4,177.2 L692.9,222 H666.3 Z" fill="url(#gc)"/>
<ellipse cx="678.3499999999999" cy="176.6" rx="9.850000000000012" ry="2.2" fill="#6a6a6a"/>
<ellipse cx="678.3499999999999" cy="176.39999999999998" rx="7.050000000000011" ry="1.4" fill="#9c9a96"/>
<ellipse cx="678.3499999999999" cy="176.39999999999998" rx="3" ry="0.9" fill="#e0ddd8"/>
<path d="M719.9,176.5 Q719.9,174.5 722.9,174.5 H739 Q742,174.5 742,176.5 L745.5,222 H718.5 Z" fill="url(#gc)"/>
<ellipse cx="730.95" cy="175.9" rx="9.850000000000012" ry="2.2" fill="#6a6a6a"/>
<ellipse cx="730.95" cy="175.7" rx="7.050000000000011" ry="1.4" fill="#9c9a96"/>
<ellipse cx="730.95" cy="175.7" rx="3" ry="0.9" fill="#e0ddd8"/></svg><!--/PR-->
</body></html>
